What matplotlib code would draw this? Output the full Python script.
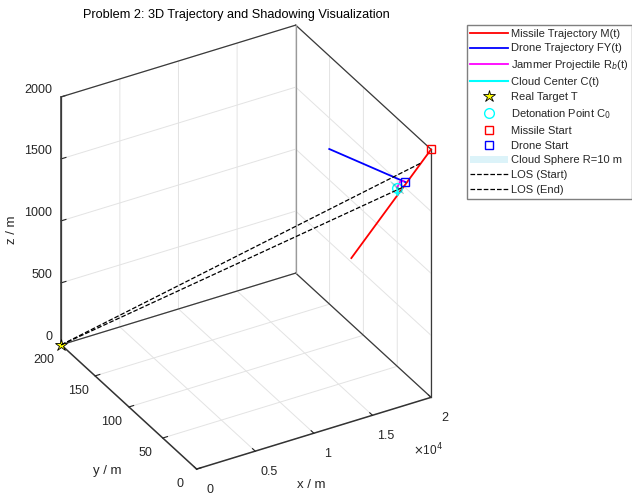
import matplotlib
matplotlib.use("Agg")
import matplotlib.pyplot as plt
import numpy as np
from matplotlib.lines import Line2D
from matplotlib.patches import Patch

plt.rcParams.update({"font.family": ["Liberation Sans", "DejaVu Sans"], "font.size": 9,
                     "text.color": "#262626", "axes.labelcolor": "#262626",
                     "xtick.color": "#262626", "ytick.color": "#262626"})

# ---- data (m) ----
missile_x = [20000, 13200]; missile_y = [0, 0]; missile_z = [2000, 1320]
drone_x = [17800, 15240]; drone_y = [0, 68]; drone_z = [1800, 1800]
jammer_x = [17750, 17600, 17450]; jammer_y = [2, 4, 6]; jammer_z = [1800, 1790, 1735]
cloud_x = [17450, 17450]; cloud_y = [6, 6]; cloud_z = [1735, 1680]
target = (0, 200, 0)
det_point = (17450, 6, 1735)
cloud_r = 10
los_start_missile = (19150, 0, 1915)
los_end_missile = (17650, 0, 1765)

x_ticks = [0, 5000, 10000, 15000, 20000]; x_ticklabels = ["0", "0.5", "1", "1.5", "2"]
y_ticks = [0, 50, 100, 150, 200]
z_ticks = [0, 500, 1000, 1500, 2000]
xl, yl, zl = (0, 20000), (0, 200), (0, 2000)

RED, BLUE, MAG, CYAN, YEL = "#ff0000", "#0000ff", "#ff00ff", "#00ffff", "#ffff00"
DARK = "#262626"

fig = plt.figure(figsize=(6.32, 4.94), dpi=100)
ax = fig.add_axes([0.0095, 0.007, 0.74, 0.96], projection="3d", proj_type="ortho")

# box outline (MATLAB "box on")
edges = [((xl[0],) * 2, (yl[1],) * 2, zl), (xl, (yl[1],) * 2, (zl[1],) * 2),
         ((xl[1],) * 2, yl, (zl[1],) * 2), ((xl[1],) * 2, (yl[0],) * 2, zl),
         (xl, (yl[1],) * 2, (zl[0],) * 2), ((xl[1],) * 2, yl, (zl[0],) * 2)]
for ex, ey, ez in edges:
    ax.plot(ex, ey, ez, color="#3a3a3a", lw=0.9)
ax.plot((xl[1],) * 2, (yl[1],) * 2, zl, color="#9a9a9a", lw=0.9)

ax.plot(missile_x, missile_y, missile_z, color=RED, lw=1.3)
ax.plot(drone_x, drone_y, drone_z, color=BLUE, lw=1.3)
ax.plot(jammer_x, jammer_y, jammer_z, color=MAG, lw=1.3)
ax.plot(cloud_x, cloud_y, cloud_z, color=CYAN, lw=1.8)
u, v = np.meshgrid(np.linspace(0, 2 * np.pi, 25), np.linspace(0, np.pi, 13))
ax.plot_surface(det_point[0] + cloud_r * np.cos(u) * np.sin(v),
                det_point[1] + cloud_r * np.sin(u) * np.sin(v),
                det_point[2] + cloud_r * np.cos(v), color=CYAN, alpha=0.25, lw=0)
ax.plot([target[0]], [target[1]], [target[2]], marker="*", ms=9, mfc=YEL, mec="k", mew=0.6, ls="none")
ax.plot([det_point[0]], [det_point[1]], [det_point[2]], marker="o", ms=7, mfc="none", mec=CYAN, ls="none")
ax.plot([missile_x[0]], [missile_y[0]], [missile_z[0]], marker="s", ms=6, mfc="none", mec=RED, ls="none")
ax.plot([drone_x[0]], [drone_y[0]], [drone_z[0]], marker="s", ms=6, mfc="none", mec=BLUE, ls="none")
for m in (los_start_missile, los_end_missile):
    ax.plot([target[0], m[0]], [target[1], m[1]], [target[2], m[2]], color="k", ls="--", lw=0.9)

ax.set_xlim(*xl); ax.set_ylim(*yl); ax.set_zlim(*zl)
ax.set_xticks(x_ticks); ax.set_yticks(y_ticks); ax.set_zticks(z_ticks)
ax.set_xticklabels([]); ax.set_yticklabels([]); ax.set_zticklabels([])
ax.view_init(elev=32, azim=-120)
ax.set_box_aspect((1, 1, 1.08), zoom=1.0)
for a in (ax.xaxis, ax.yaxis, ax.zaxis):
    a.set_pane_color((1, 1, 1, 1))
    a.pane.set_edgecolor("none")
    a._axinfo["grid"].update(color="#e3e3e3", linewidth=0.7)
    a._axinfo["tick"].update(inward_factor=0.0, outward_factor=0.25)
    a._axinfo["axisline"].update(linewidth=1.1)
    a.line.set_color("#333333")
    a.line.set_linewidth(1.1)

# MATLAB-style tick labels, pushed just outside the box
for xt, lab in zip(x_ticks, x_ticklabels):
    ax.text(xt, -20, -65, lab, ha="center", va="center", color=DARK, fontsize=9)
for yt in y_ticks:
    ax.text(-1450, yt, -80, str(yt), ha="center", va="center", color=DARK, fontsize=9)
for zt in z_ticks:
    ax.text(-200, 210, zt + 15, str(zt), ha="right", va="center", color=DARK, fontsize=9)
fig.text(0.677, 0.089, r"$\times$10$^4$", fontsize=8.5, color=DARK, ha="center", va="center")
fig.text(0.493, 0.018, "x / m", fontsize=9.5, color=DARK, ha="center", va="center")
fig.text(0.169, 0.047, "y / m", fontsize=9.5, color=DARK, ha="center", va="center")
fig.text(0.019, 0.535, "z / m", fontsize=9.5, color=DARK, ha="center", va="center", rotation=90)
fig.text(0.374, 0.97, "Problem 2: 3D Trajectory and Shadowing Visualization", fontsize=9.2,
         color="k", ha="center", va="center")

handles = [Line2D([], [], color=RED, lw=1.3), Line2D([], [], color=BLUE, lw=1.3),
           Line2D([], [], color=MAG, lw=1.3), Line2D([], [], color=CYAN, lw=1.5),
           Line2D([], [], marker="*", ms=9, mfc=YEL, mec="k", mew=0.6, ls="none"),
           Line2D([], [], marker="o", ms=7, mfc="none", mec=CYAN, ls="none"),
           Line2D([], [], marker="s", ms=6, mfc="none", mec=RED, ls="none"),
           Line2D([], [], marker="s", ms=6, mfc="none", mec=BLUE, ls="none"),
           Patch(facecolor="#dcf3f9", edgecolor="none"),
           Line2D([], [], color="k", ls="--", lw=0.9), Line2D([], [], color="k", ls="--", lw=0.9)]
labels = ["Missile Trajectory M(t)", "Drone Trajectory FY(t)", "Jammer Projectile R$_b$(t)",
          "Cloud Center C(t)", "Real Target T", "Detonation Point C$_0$", "Missile Start",
          "Drone Start", "Cloud Sphere R=10 m", "LOS (Start)", "LOS (End)"]
fig.legend(handles, labels, loc="upper left", bbox_to_anchor=(0.739, 0.949), fontsize=8,
           handlelength=3.4, handletextpad=0.3, labelspacing=0.44, fancybox=False,
           edgecolor="#7f7f7f", borderaxespad=0, borderpad=0.3, framealpha=1)
fig.savefig("out.png", dpi=100)
